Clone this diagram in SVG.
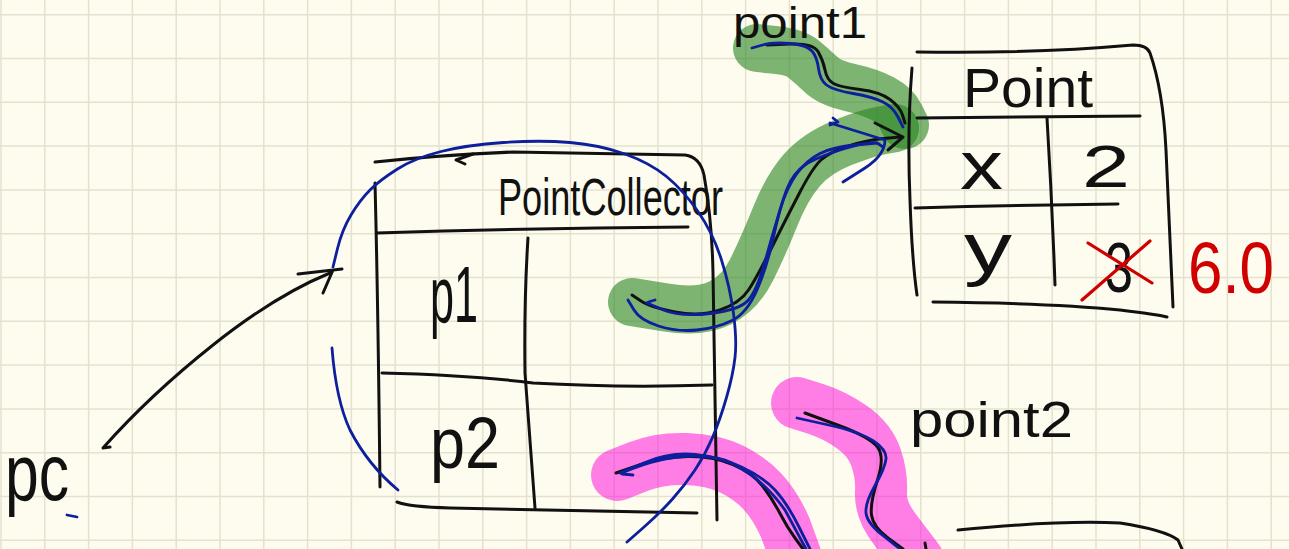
<svg xmlns="http://www.w3.org/2000/svg" width="1289" height="549" viewBox="0 0 1289 549">
<style>
.ink{fill:none;stroke:#111;stroke-width:3;stroke-linecap:round;stroke-linejoin:round}
.blue{fill:none;stroke:#0d1f9c;stroke-width:2.8;stroke-linecap:round;stroke-linejoin:round}
.red{fill:none;stroke:#d00000;stroke-width:3.2;stroke-linecap:round}
.hlg{fill:none;stroke:#268420;stroke-opacity:0.6;stroke-width:48;stroke-linecap:round;stroke-linejoin:round}
.hlp{fill:none;stroke:#ff00dd;stroke-opacity:0.5;stroke-width:52;stroke-linecap:round;stroke-linejoin:round}
.grid{fill:none;stroke:#e4e1cf;stroke-width:1.5}
text{font-family:"Liberation Sans",Arial,sans-serif;fill:#111}
.rt{fill:#d00000}
</style>
<rect x="0" y="0" width="1289" height="549" fill="#fefcee"/>
<path class="grid" d="M1,0V549M44.8,0V549M88.6,0V549M132.4,0V549M176.2,0V549M220,0V549M263.8,0V549M307.6,0V549M351.4,0V549M395.2,0V549M439,0V549M482.8,0V549M526.6,0V549M570.4,0V549M614.2,0V549M658,0V549M701.8,0V549M745.6,0V549M789.4,0V549M833.2,0V549M877,0V549M920.8,0V549M964.6,0V549M1008.4,0V549M1052.2,0V549M1096,0V549M1139.8,0V549M1183.6,0V549M1227.4,0V549M1271.2,0V549M0,14.7H1289M0,58.5H1289M0,102.3H1289M0,146.1H1289M0,189.9H1289M0,233.7H1289M0,277.5H1289M0,321.3H1289M0,365.1H1289M0,408.9H1289M0,452.7H1289M0,496.5H1289M0,540.3H1289"/>
<g id="highlights">
<path class="hlg" d="M757,48 L776,50 Q795,52 803.5,59 Q812,66 821,74.5 Q830,83 850,87.5 Q870,92 882.5,98.5 Q895,105 900,115 L905,125"/>
<path class="hlg" d="M632,302 L666,307.5 Q700,313 720,303 Q740,293 751.5,270 Q763,247 775,217 Q787,187 802,170 Q817,153 842,143 Q867,133 881,130.5 L895,128"/>
<path class="hlp" d="M617,475 L638.5,466.5 Q660,458 686.5,459 Q713,460 731.5,469 Q750,478 762.5,491.5 Q775,505 785,527 L797,560"/>
<path class="hlp" d="M797,403 L816,409 Q835,415 852.5,427.5 Q870,440 876,457.5 Q882,475 881,492.5 Q880,510 895,529.5 L918,560"/>
</g>
<g id="PointCollector">
<path class="ink" d="M375,162 Q440,155 513,152 L685,155 Q700,157 704,175 Q712,220 713,273 L717,520"/>
<path class="ink" d="M473,154 L456,160 L465,164"/>
<path class="ink" d="M375,183 Q378,300 380,487"/>
<path class="ink" d="M377,233 Q530,228 688,227"/>
<path class="ink" d="M528,238 Q524,300 525,373 Q530,440 535,508"/>
<path class="ink" d="M382,373 Q470,375 533,383 Q620,388 712,385"/>
<path class="ink" d="M397,502 Q410,507 450,508 L697,513"/>
<text x="498" y="215" font-size="52" textLength="225" lengthAdjust="spacingAndGlyphs">PointCollector</text>
<text x="430" y="322" font-size="80" textLength="48" lengthAdjust="spacingAndGlyphs">p1</text>
<text x="430" y="468" font-size="72" textLength="70" lengthAdjust="spacingAndGlyphs">p2</text>
</g>
<g id="Point">
<path class="ink" d="M917,52 Q1030,54 1133,45 Q1147,45 1150,53 Q1163,90 1166,150 L1173,307"/>
<path class="ink" d="M912,68 Q907,130 910,200 Q912,260 917,295"/>
<path class="ink" d="M917,118 L1140,116"/>
<path class="ink" d="M1047,118 Q1052,200 1055,285"/>
<path class="ink" d="M915,208 Q1020,205 1118,204"/>
<path class="ink" d="M933,302 Q1050,303 1120,310 Q1160,315 1167,317"/>
<text x="963" y="107" font-size="56" textLength="130" lengthAdjust="spacingAndGlyphs">Point</text>
<text x="960" y="189" font-size="68" textLength="43" lengthAdjust="spacingAndGlyphs">x</text>
<text x="1082" y="187" font-size="60" textLength="48" lengthAdjust="spacingAndGlyphs">2</text>
<text x="964" y="272" font-size="70" textLength="48" lengthAdjust="spacingAndGlyphs">y</text>
<text x="1105" y="292" font-size="70" textLength="28" lengthAdjust="spacingAndGlyphs">3</text>
<path class="red" d="M1082,300 L1150,241 M1088,243 L1152,283"/>
<text class="rt" x="1188" y="293" font-size="72" textLength="86" lengthAdjust="spacingAndGlyphs">6.0</text>
</g>
<g id="PointBelow">
<path class="ink" d="M958,530 Q1060,520 1120,523 Q1165,530 1178,540 L1182,549"/>
<path class="ink" d="M925,543 L926,549"/>
</g>
<g id="labels">
<text id="pc" x="5" y="500" font-size="80" textLength="64" lengthAdjust="spacingAndGlyphs">pc</text>
<text id="point1" x="733" y="38" font-size="44" textLength="134" lengthAdjust="spacingAndGlyphs">point1</text>
<text id="point2" x="910" y="437" font-size="50" textLength="163" lengthAdjust="spacingAndGlyphs">point2</text>
</g>
<g id="connectors">
<path class="ink" d="M110,447 L103,448 Q150,395 213,345 Q276,295 330,273"/>
<path class="ink" d="M298,274 L342,269 M333,270 L323,293"/>
<path class="ink" d="M767,45 L790,44 Q813,43 818,51.5 Q823,60 825,70 Q827,80 833.5,83.5 Q840,87 860,89.5 Q880,92 890,99.5 Q900,107 902.5,115 L905,123"/>
<path class="ink" d="M875,123 L903,137 L888,150"/>
<path class="ink" d="M632,295 L641,301 Q650,307 675,312 Q700,317 720,310 Q740,303 748.5,290 Q757,277 772,247 Q787,217 800,192 Q813,167 821.5,159.5 Q830,152 848.5,146 Q867,140 883.5,138.5 L900,137"/>
<path class="ink" d="M616,473 L639.5,465 Q663,457 688,456.5 Q713,456 733,464.5 Q753,473 763,486.5 Q773,500 780,513.5 Q787,527 795,538 L803,549"/>
<path class="ink" d="M805,413 L837.5,425 Q870,437 877.5,447 Q885,457 877.5,480 Q870,503 871.5,515 Q873,527 888,538 L903,549"/>
<path class="blue" d="M333,267 L337.5,248.5 Q342,230 351,215 Q360,200 370,190 Q380,180 397.5,169 Q415,158 441,151.5 Q467,145 503.5,142.5 Q540,140 570,142.5 Q600,145 625,154 Q650,163 666.5,176.5 Q683,190 698,211.5 Q713,233 721.5,260 Q730,287 733.5,313.5 Q737,340 735,357.5 Q733,375 726.5,397.5 Q720,420 712.5,437.5 Q705,455 695,470 Q685,485 672.5,499 Q660,513 643.5,527.5 L627,542"/>
<path class="blue" d="M332,348 Q336,400 350,430 Q368,465 398,490"/>
<path class="blue" d="M752,48 L762.5,45 Q773,42 790,43.5 Q807,45 812,51 Q817,57 818.5,68.5 Q820,80 826.5,85 Q833,90 853,93.5 Q873,97 883,102 Q893,107 898,117 L903,127"/>
<path class="blue" d="M628,300 L634,310 Q640,320 658.5,326 Q677,332 697,330 Q717,328 732,320.5 Q747,313 757,290 Q767,267 773.5,237 Q780,207 786.5,190 Q793,173 805,165 Q817,157 845,148.5 Q873,140 878,143.5 L883,147"/>
<path class="blue" d="M655,300 Q645,303 647,303 L663.5,310 Q680,317 710,313.5 Q740,310 748.5,300 Q757,290 765,261.5 Q773,233 780,210 Q787,187 797,173.5 Q807,160 820,153.5 Q833,147 855,145 L877,143"/>
<path class="blue" d="M830,123 L885,140 Q885,155 865,168 L843,182 M833,118 L838,122 L830,125"/>
<path class="blue" d="M620,473 L645,462.5 Q670,452 695,454.5 Q720,457 741.5,467 Q763,477 775,490 Q787,503 798.5,526 L810,549 M622,474 L633,475"/>
<path class="blue" d="M624,472 Q680,448 725,460 Q760,475 785,510 L806,549"/>
<path class="blue" d="M797,418 L828.5,425 Q860,432 873.5,441 Q887,450 886,459 Q885,468 875,485.5 Q865,503 866,513 Q867,523 883.5,536 L900,549"/>
<path class="blue" d="M67,515 L77,517"/>
</g>
</svg>
